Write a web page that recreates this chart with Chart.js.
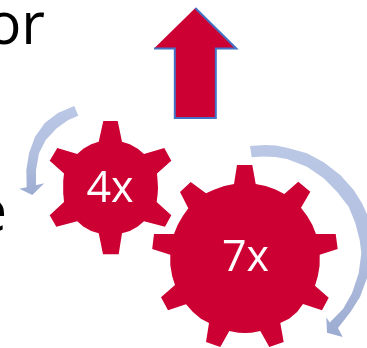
<!DOCTYPE html>
<html>
<head>
<meta charset="utf-8">
<title>4x 7x gears</title>
<script src="https://cdn.jsdelivr.net/npm/chart.js@4/dist/chart.umd.min.js"></script>
<style>
    html, body { margin: 0; padding: 0; background: #ffffff; overflow: hidden; }
    canvas { display: block; }
</style>
</head>
<body>
<canvas id="gearChart" width="367" height="348"></canvas>
<script>
// Outlines, walked clockwise, as [x, y] values on the chart's axes
const smallGear = [
    [98.7,141.7],[103.3,121],[117.7,121],[122,141.7],[129.8,144.3],[137.8,148.8],
    [144,154],[164.3,148],[171.3,160.7],[157,173.4],[157.6,181],[158,187.7],[157.6,194.5],
    [156.7,202],[171.3,215.3],[165,226.7],[144,221.3],[137.8,226.6],[129.8,231],
    [122,233.3],[118.7,254.3],[103,254.3],[98.7,233.3],[91.2,231],[83.2,226.6],
    [77.3,221.3],[56.3,226.7],[49.7,215.3],[64,202],[63.4,194.5],[63,187.7],[63.4,181],
    [64,173.4],[49.7,160.7],[57.3,148],[77.3,154],[83.2,148.8],[91.2,144.3]
];
const bigGear = [
    [234,184],[237,165],[252.3,165],[255.7,184],[265.7,185.9],[275.5,189.5],
    [284.3,194],[298.3,181.7],[310.3,191.7],[301,207.7],[307.2,216.1],[312.4,225.1],
    [316,234],[335.7,234],[337.7,249],[319.7,254.7],[319.6,265.8],[317.8,276.2],
    [315,285.7],[328.7,297.7],[322,310.3],[303,304],[297.1,311.9],[289.1,318.7],
    [280.3,323],[283.7,342],[269.3,347],[260.3,331],[251.5,332.7],[245,333],[238.5,332.7],
    [229.3,331],[220.3,347],[206,342],[209,323],[200.9,318.7],[192.9,311.9],
    [186,304.3],[168,310.3],[161,297.3],[175,285],[172.2,276.2],[170.4,265.8],
    [170.3,254.7],[152.2,249],[154,234],[174,234],[177.6,225.1],[182.8,216.1],
    [188.3,208.3],[180,192],[190.7,182],[206,193.3],[214.5,189.5],[224.3,185.9]
];
const upArrow = [
    [195.3,8],[236.3,48.5],[215.8,48.5],[215.8,118],[174.8,118],[174.8,48.5],[154,48.5]
];
const leftTurnArrow = [
    [74.3,106],[58.3,112.7],[45,122.7],[35,136.7],[29,153.3],[26.3,170],[26.7,187.3],
    [19.3,188.7],[32.3,195],[44.3,183.3],[36.7,185],[36,170],[39,153.3],[45.7,140],
    [56.7,128.3],[68.3,120],[78.3,115.7]
];
const rightTurnArrow = [
    [250,146],[265,145],[276,145.5],[287,147.7],[307,153.3],[323.7,162.3],[340.3,175],
    [353.7,190],[362,203.3],[367,214.3],[372,240],[371,262],[367,278],[360,297],
    [350.5,312],[338,328],[342.7,337],[327,332.7],[326.3,317.3],[329.7,322.5],
    [343,309],[352,293.3],[358.7,273.3],[361.3,253.3],[359.7,240],[355.3,223],[348.7,206.7],
    [337,191.7],[323.7,178.3],[307,166.7],[287,159],[275,157],[263,156.5],[251.7,157.3]
];

// Text on the chart: string, x at its anchor, baseline y
const gearLabels = ['4x', '7x'];
const gearLabelX = [110, 245.5];
const gearLabelY = [202.3, 270.7];
const sideWords = ['or', 'e'];
const sideWordX = [45, 7];
const sideWordY = [44.3, 230.7];

const CRIMSON = '#cc0033';

function toPoints(pairs) {
    return pairs.map(function(p) { return { x: p[0], y: p[1] }; });
}

// Vertical fade used by the two turning arrows
function arrowFade(top, bottom) {
    return function(context) {
        const chart = context.chart;
        if (!chart.chartArea) return '#b0bddd';
        const scale = chart.scales.y;
        const g = chart.ctx.createLinearGradient(0, scale.getPixelForValue(top), 0, scale.getPixelForValue(bottom));
        g.addColorStop(0, '#bac7e5');
        g.addColorStop(0.55, '#b2bfdf');
        g.addColorStop(1, '#9cabd1');
        return g;
    };
}

function shape(pairs, fill, stroke, strokeWidth) {
    return {
        data: toPoints(pairs),
        showLine: true,
        fill: 'shape',
        backgroundColor: fill,
        borderColor: stroke || 'transparent',
        borderWidth: strokeWidth || 0,
        pointRadius: 0,
        tension: 0
    };
}

// Words are drawn last so they sit on top of the gears
const wordsPlugin = {
    id: 'words',
    afterDatasetsDraw: function(chart) {
        const ctx = chart.ctx;
        const sx = chart.scales.x;
        const sy = chart.scales.y;
        ctx.save();
        ctx.textBaseline = 'alphabetic';

        ctx.fillStyle = '#000000';
        ctx.textAlign = 'right';
        ctx.font = '58px "Open Sans"';
        sideWords.forEach(function(word, i) {
            ctx.fillText(word, sx.getPixelForValue(sideWordX[i]), sy.getPixelForValue(sideWordY[i]));
        });

        ctx.fillStyle = '#ffffff';
        ctx.textAlign = 'center';
        ctx.font = '43px "Open Sans"';
        gearLabels.forEach(function(label, i) {
            ctx.fillText(label, sx.getPixelForValue(gearLabelX[i]), sy.getPixelForValue(gearLabelY[i]));
        });
        ctx.restore();
    }
};

new Chart(document.getElementById('gearChart'), {
    type: 'scatter',
    data: {
        datasets: [
            shape(smallGear, CRIMSON),
            shape(bigGear, CRIMSON),
            shape(upArrow, CRIMSON, '#4472c4', 2),
            shape(leftTurnArrow, arrowFade(106, 195)),
            shape(rightTurnArrow, arrowFade(145, 337))
        ]
    },
    options: {
        responsive: false,
        animation: false,
        layout: { padding: 0 },
        plugins: {
            legend: { display: false },
            tooltip: { enabled: false }
        },
        scales: {
            x: { type: 'linear', display: false, min: 0, max: 367 },
            y: { type: 'linear', display: false, min: 0, max: 348, reverse: true }
        }
    },
    plugins: [wordsPlugin]
});
</script>
</body>
</html>
